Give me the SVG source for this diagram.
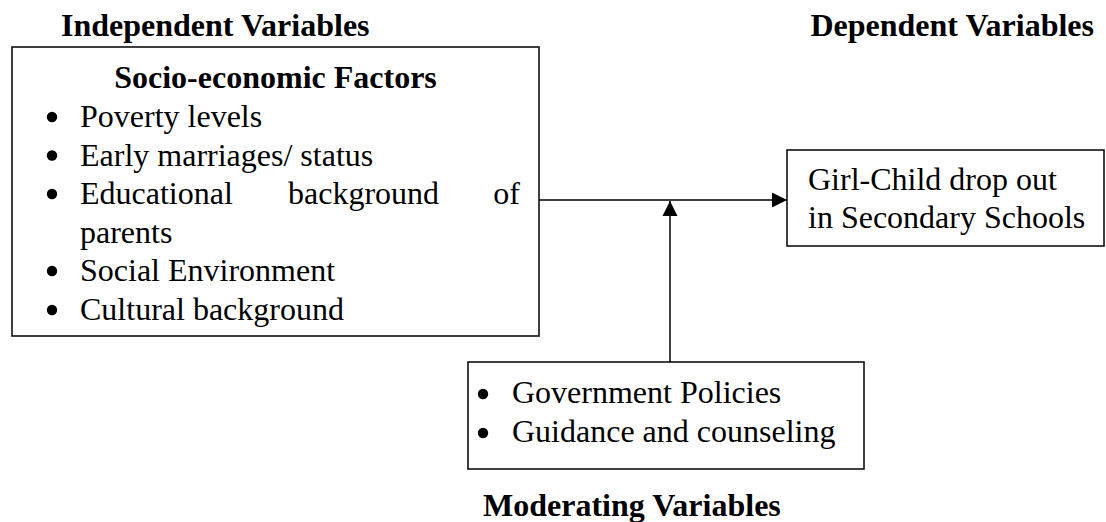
<svg xmlns="http://www.w3.org/2000/svg" width="1106" height="522" viewBox="0 0 1106 522">
<style>
text{font-family:"Liberation Serif","Times New Roman",serif;font-size:32px;fill:#000}
.b{font-weight:bold}
.box{fill:#fff;stroke:#111;stroke-width:1.6}
.ln{stroke:#000;stroke-width:1.5;fill:none}
.dot{fill:#000}
</style>
<defs>
<marker id="ah" markerWidth="16" markerHeight="16" refX="15" refY="8" orient="auto" markerUnits="userSpaceOnUse">
<path d="M0,0.5 L15,8 L0,15.5 Z" fill="#000"/>
</marker>
</defs>
<rect width="1106" height="522" fill="#fff"/>
<g id="labels">
<text class="b" x="61" y="36">Independent Variables</text>
<text class="b" x="1094" y="36" text-anchor="end">Dependent Variables</text>
<text class="b" x="483" y="516">Moderating Variables</text>
</g>
<g id="socio">
<rect class="box" x="12" y="47" width="527" height="289"/>
<text class="b" x="275.5" y="88" text-anchor="middle">Socio-economic Factors</text>
<circle class="dot" cx="52" cy="117" r="5.2"/><text x="80" y="127">Poverty levels</text>
<circle class="dot" cx="52" cy="155.5" r="5.2"/><text x="80" y="165.5">Early marriages/ status</text>
<circle class="dot" cx="52" cy="194" r="5.2"/><text x="80" y="204">Educational</text><text x="288" y="204">background</text><text x="520" y="204" text-anchor="end">of</text>
<text x="80" y="242.5">parents</text>
<circle class="dot" cx="52" cy="271" r="5.2"/><text x="80" y="281">Social Environment</text>
<circle class="dot" cx="52" cy="310" r="5.2"/><text x="80" y="320">Cultural background</text>
</g>
<g id="dropout">
<rect class="box" x="787" y="150" width="317" height="96"/>
<text x="808" y="190">Girl-Child drop out</text>
<text x="808" y="228">in Secondary Schools</text>
</g>
<g id="moderating">
<rect class="box" x="468" y="362" width="396" height="107"/>
<circle class="dot" cx="483" cy="394" r="5.2"/><text x="512" y="403">Government Policies</text>
<circle class="dot" cx="483" cy="433" r="5.2"/><text x="512" y="442">Guidance and counseling</text>
</g>
<g id="connectors">
<line class="ln" x1="539" y1="200" x2="787" y2="200" marker-end="url(#ah)"/>
<line class="ln" x1="670" y1="362" x2="670" y2="201" marker-end="url(#ah)"/>
</g>
</svg>
